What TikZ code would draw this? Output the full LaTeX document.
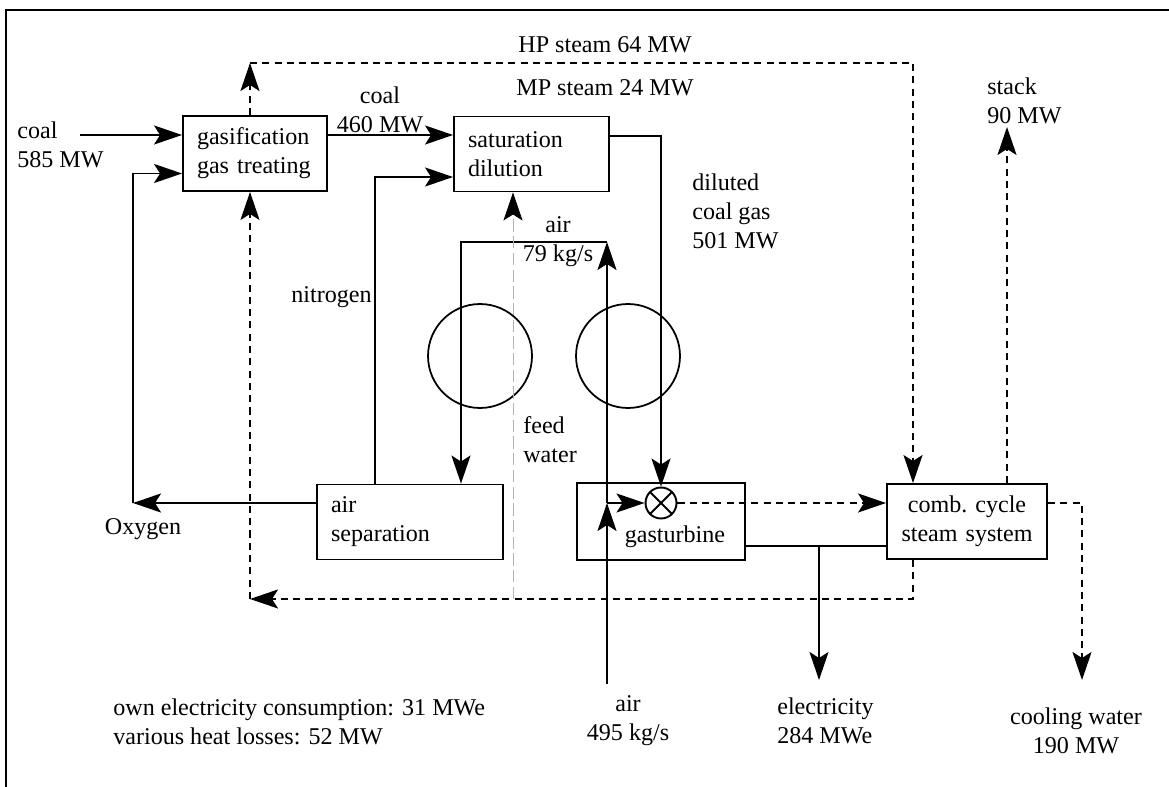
\documentclass[tikz,border=0pt]{standalone}
\usepackage{fontspec}
\setmainfont{Liberation Serif}
\usetikzlibrary{arrows.meta,calc}
\tikzset{
  block/.style={draw, line width=1.1pt, inner xsep=0.28cm, minimum height=1.5cm, align=left},
  sig/.style={-{Stealth[length=5.6mm,width=3.8mm,inset=1.2mm]}, line width=1.1pt},
  wire/.style={line width=1.1pt},
  steam/.style={sig, dash pattern=on 4pt off 3pt},
  feed/.style={-{Stealth[length=5.6mm,width=3.8mm,inset=1.2mm,color=black]}, gray!60, line width=0.4pt, dash pattern=on 7pt off 2.5pt},
  lab/.style={inner sep=0pt, align=left},
  turb/.style={draw, circle, line width=1pt, minimum size=2.08cm, inner sep=0pt},
  mixer/.style={draw, circle, line width=1.1pt, minimum size=0.62cm, inner sep=0pt,
    path picture={\draw[line width=1.1pt] (path picture bounding box.north west) -- (path picture bounding box.south east)
      (path picture bounding box.north east) -- (path picture bounding box.south west);}},
}
\begin{document}
\begin{tikzpicture}[x=0.02cm, y=-0.02cm, every node/.style={font=\fontsize{13.7}{16.5}\selectfont}]
  \useasboundingbox (0,0) rectangle (1169,787);
  \draw[line width=1.2pt] (6,787) -- (6,10) -- (1169,10);

  \node[block, text width=2.32cm] (gas) at (255,153.5) {gasification\\gas treating};
  \node[block, text width=2.54cm] (sat) at (531.5,154) {saturation\\dilution};
  \node[block, text width=3.16cm] (asep) at (410,522) {air\\separation};
  \node[block, minimum width=3.36cm, minimum height=1.54cm] (gt) at (661,521.5) {};
  \node (gtlab) at (675,537) {gasturbine};
  \node[block, text width=2.64cm, align=center] (comb) at (967,521.5) {comb.\ cycle\\steam system};
  \node[mixer] (cmb) at (661,503) {};
  \node[turb] (t1) at (480,356) {};
  \node[turb] (t2) at (628,356) {};

  \node[lab] (hplab) at (605,45) {HP steam 64 MW};
  \node[lab] (mplab) at (605,88) {MP steam 24 MW};
  \node[lab, anchor=west] (coalin) at (17,145) {coal\\585 MW};
  \node[lab, align=center] (coalmid) at (380,110) {coal\\460 MW};
  \node[lab, anchor=west] (dillab) at (692,211) {diluted\\coal gas\\501 MW};
  \node[lab, align=center] (airlab) at (558,242) {air\\79 kg/s};
  \node[lab, anchor=east] (nitlab) at (372,297) {nitrogen};
  \node[lab, anchor=west] (feedlab) at (523,440) {feed\\water};
  \node[lab] (oxylab) at (143,529) {Oxygen};
  \node[lab, align=center] (airinlab) at (628,721) {air\\495 kg/s};
  \node[lab, anchor=west] (ellab) at (777,721) {electricity\\284 MWe};
  \node[lab, align=center] (cwlab) at (1076,731) {cooling water\\190 MW};
  \node[lab, anchor=west] (stklab) at (987,101) {stack\\90 MW};
  \node[lab, anchor=west] (ownlab) at (113,722) {own electricity consumption: 31 MWe\\various heat losses: 52 MW};

  \coordinate (coalsrc) at (80,135);
  \draw[sig] (coalsrc) -- (coalsrc -| gas.west);
  \draw[sig] ([yshift=.37cm]gas.east) -- ([yshift=.37cm]gas.east -| sat.west);
  \coordinate (oxy) at (133,503);
  \draw[sig] (asep.west |- oxy) -- (oxy);
  \draw[sig] (oxy) |- ([yshift=-.4cm]gas.west);
  \coordinate (nit) at (375,177);
  \draw[sig] (nit |- asep.north) -- (nit) -- (nit -| sat.west);
  \coordinate (dil) at (661,136);
  \draw[sig] (dil -| sat.east) -- (dil) -- (cmb.north);
  \coordinate (airin) at (607,684);
  \coordinate (airsp) at (607,503);
  \coordinate (airtop) at (607,242);
  \draw[sig] (airin) -- (airsp);
  \draw[sig] (airsp) -- (cmb.west);
  \draw[sig] (airsp) -- (airtop);
  \draw[sig] (airtop) -| ([xshift=1.02cm]asep.north);
  \coordinate (fw) at (513,599);
  \draw[feed] (fw) -- (fw |- sat.south);
  \coordinate (el) at (819,546);
  \coordinate (elout) at (819,680);
  \draw[wire] (gt.east |- el) -- (comb.west |- el);
  \draw[sig] (el) -- (elout);
  \coordinate (hp) at (250,63);
  \coordinate (hpr) at (913,63);
  \draw[steam] (gas.north -| hp) -- (hp);
  \draw[steam] (hp) -- (hpr) -- (hpr |- comb.north);
  \coordinate (ret) at (250,599);
  \coordinate (retr) at (913,599);
  \draw[steam] (retr |- comb.south) -- (retr) -- (ret);
  \draw[steam] (ret) -- (ret |- gas.south);
  \draw[steam] (cmb.east) -- (cmb.east -| comb.west);
  \coordinate (stk) at (1007,127);
  \draw[steam] (stk |- comb.north) -- (stk);
  \coordinate (cw) at (1082,503);
  \coordinate (cwout) at (1082,680);
  \draw[steam] (comb.east |- cw) -- (cw) -- (cwout);
\end{tikzpicture}
\end{document}
